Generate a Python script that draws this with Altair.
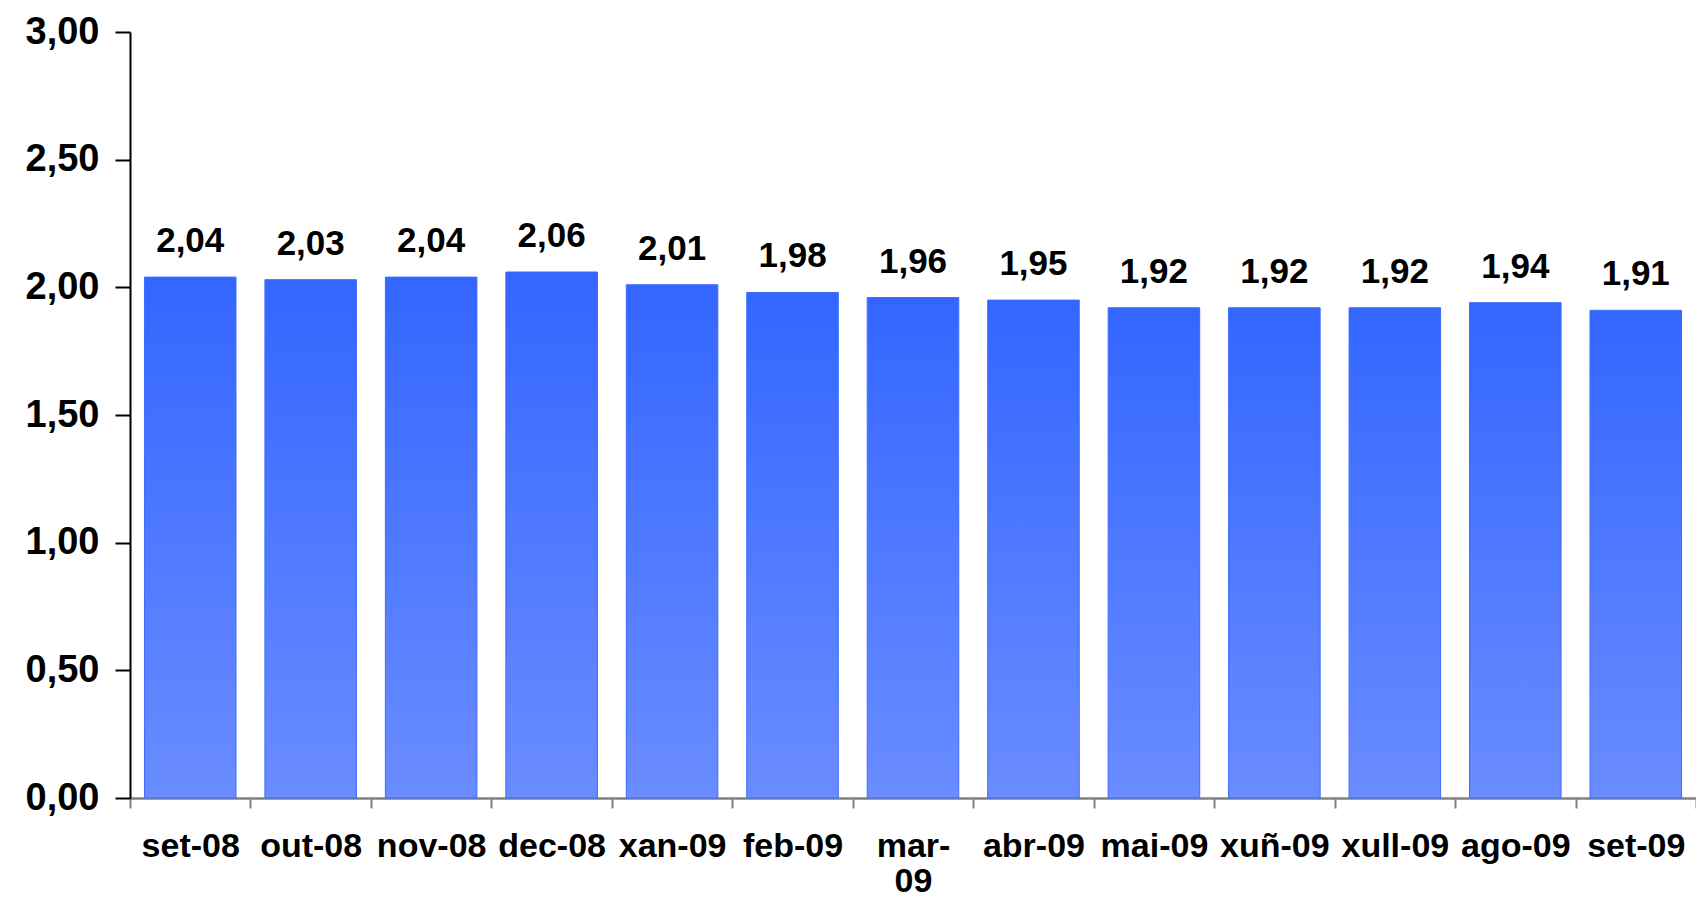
import altair as alt
import pandas as pd

months = ["set-08", "out-08", "nov-08", "dec-08", "xan-09", "feb-09", "mar-09",
          "abr-09", "mai-09", "xuñ-09", "xull-09", "ago-09", "set-09"]
values = [2.04, 2.03, 2.04, 2.06, 2.01, 1.98, 1.96, 1.95, 1.92, 1.92, 1.92, 1.94, 1.91]
y_ticks = [0, 0.5, 1.0, 1.5, 2.0, 2.5, 3.0]

df = pd.DataFrame({"month": months, "value": values})
df["label"] = [f"{v:.2f}".replace(".", ",") for v in values]

FONT = "Liberation Sans"

gradient = alt.Gradient(
    gradient="linear",
    stops=[alt.GradientStop(color="#3366ff", offset=0),
           alt.GradientStop(color="#6a8cff", offset=1)],
    x1=0, x2=0, y1=0, y2=1,
)

x_enc = alt.X(
    "month:N", sort=months,
    scale=alt.Scale(paddingInner=0, paddingOuter=0),
    axis=alt.Axis(
        title=None, labelAngle=0, labelFont=FONT, labelFontSize=34,
        labelFontWeight="bold", labelColor="black", labelPadding=21,
        labelOverlap=False, labelLimit=0, labelLineHeight=35,
        labelExpr="datum.value == 'mar-09' ? ['mar-', '09'] : datum.value",
        domainColor="#808080", domainWidth=2.5, tickColor="#808080",
        tickWidth=2, tickSize=10, tickBand="extent",
    ),
)

y_enc = alt.Y(
    "value:Q",
    scale=alt.Scale(domain=[0, 3], nice=False),
    axis=alt.Axis(
        title=None, values=y_ticks, grid=False,
        labelExpr="replace(format(datum.value, '.2f'), '.', ',')",
        labelFont=FONT, labelFontSize=38, labelFontWeight="bold",
        labelColor="black", labelPadding=16,
        domainColor="black", domainWidth=2, tickColor="black",
        tickWidth=2, tickSize=15,
    ),
)

bars = alt.Chart(df).mark_bar(
    width=alt.RelativeBandSize(0.76), color=gradient,
    stroke="#3d6bff", strokeWidth=1,
).encode(x=x_enc, y=y_enc)

text = alt.Chart(df).mark_text(
    dy=-25, baseline="alphabetic", font=FONT, fontSize=35,
    fontWeight="bold", color="black",
).encode(x=alt.X("month:N", sort=months), y="value:Q", text="label:N")

chart = (bars + text).properties(
    width=1566, height=766,
    autosize=alt.AutoSizeParams(type="none"),
    padding={"left": 122, "top": 24, "right": 0, "bottom": 99},
).configure_view(stroke=None)

chart.save("out.html", embed_options={"renderer": "svg", "actions": False})
